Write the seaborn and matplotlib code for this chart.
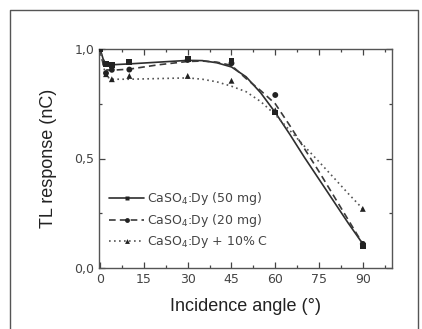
import numpy as np
import pandas as pd
import seaborn as sns
import matplotlib
matplotlib.use("Agg")
import matplotlib.pyplot as plt
from matplotlib.lines import Line2D
from matplotlib.ticker import MultipleLocator, FuncFormatter

# measured points
pt_angle = [0, 2, 4, 10, 30, 45, 60, 90]
resp_50mg = [1.0, 0.93, 0.925, 0.94, 0.955, 0.945, 0.71, 0.10]
resp_20mg = [1.0, 0.89, 0.905, 0.906, 0.95, 0.935, 0.79, 0.11]
resp_10c = [1.0, 0.885, 0.862, 0.877, 0.877, 0.855, 0.72, 0.27]

# fitted curves
fit_angle = [0, 1, 2, 4, 10, 20, 30, 35, 40, 45, 50, 55, 60, 65, 70, 75, 80, 85, 90]
fit_50mg = [1.0, 0.955, 0.93, 0.928, 0.932, 0.94, 0.948, 0.947, 0.937, 0.918, 0.873,
            0.80, 0.71, 0.61, 0.505, 0.405, 0.305, 0.205, 0.11]
fit_20mg = [1.0, 0.93, 0.905, 0.903, 0.908, 0.928, 0.943, 0.945, 0.94, 0.925, 0.865,
            0.81, 0.75, 0.65, 0.545, 0.44, 0.33, 0.22, 0.11]
fit_10c = [1.0, 0.93, 0.875, 0.862, 0.862, 0.865, 0.868, 0.862, 0.85, 0.83, 0.805,
           0.76, 0.70, 0.628, 0.556, 0.485, 0.413, 0.34, 0.27]

labels = ["CaSO$_4$:Dy (50 mg)", "CaSO$_4$:Dy (20 mg)", "CaSO$_4$:Dy + 10% C"]

sns.set_style("ticks")
plt.rcParams["font.family"] = ["DejaVu Sans"]

fig = plt.figure(figsize=(4.22, 3.29), dpi=100)
ax = fig.add_axes([99 / 422, 61 / 329, 293 / 422, 219 / 329])

styles = [
    (fit_50mg, resp_50mg, "-", "s", "#2e2e2e"),
    (fit_20mg, resp_20mg, (0, (4, 2.5)), "o", "#3a3a3a"),
    (fit_10c, resp_10c, (0, (1, 2)), "^", "#555555"),
]
handles = []
for fit, pts, ls, mk, col in styles:
    sns.lineplot(x=fit_angle, y=fit, ax=ax, color=col, linewidth=1.2,
                 linestyle=ls, estimator=None, sort=False)
    sns.scatterplot(x=pt_angle, y=pts, ax=ax, marker=mk, color="#222222",
                    s=18, edgecolor="none", zorder=3)
    handles.append(Line2D([], [], color=col, linestyle=ls, linewidth=1.2,
                          marker=mk, markersize=3.5, markerfacecolor="#222222",
                          markeredgecolor="none"))

ax.set_xlim(-0.4, 100)
ax.set_ylim(0, 1.0)
ax.xaxis.set_major_locator(MultipleLocator(15))
ax.xaxis.set_minor_locator(MultipleLocator(7.5))
ax.yaxis.set_major_locator(MultipleLocator(0.5))
ax.yaxis.set_minor_locator(MultipleLocator(0.25))
ax.yaxis.set_major_formatter(FuncFormatter(lambda v, p: f"{v:.1f}".replace(".", ",")))
ax.tick_params(which="both", direction="in", top=True, right=True,
               colors="#444444", labelsize=9, width=0.9)
ax.tick_params(which="major", length=4)
ax.tick_params(which="minor", length=2.5)
for s in ax.spines.values():
    s.set_color("#555555")
    s.set_linewidth(1.0)

ax.set_xlabel("Incidence angle (°)", fontsize=13, family="Liberation Sans",
              color="#222222", labelpad=9)
ax.set_ylabel("TL response (nC)", fontsize=13, family="Liberation Sans",
              color="#222222", labelpad=12)

leg = ax.legend(handles, labels, loc="upper left", bbox_to_anchor=(0.035, 0.355),
                frameon=False, fontsize=9, handlelength=2.8, handletextpad=0.25,
                labelspacing=0.4, borderpad=0, borderaxespad=0)
for t in leg.get_texts():
    t.set_color("#444444")

# outer frame of the figure panel (open at the bottom)
fx = [10 / 422, 10 / 422, 418 / 422, 418 / 422]
fy = [0, 1 - 10 / 329, 1 - 10 / 329, 0]
fig.add_artist(Line2D(fx, fy, transform=fig.transFigure, color="#555555", linewidth=1.0))

fig.savefig("out.png", dpi=100)
